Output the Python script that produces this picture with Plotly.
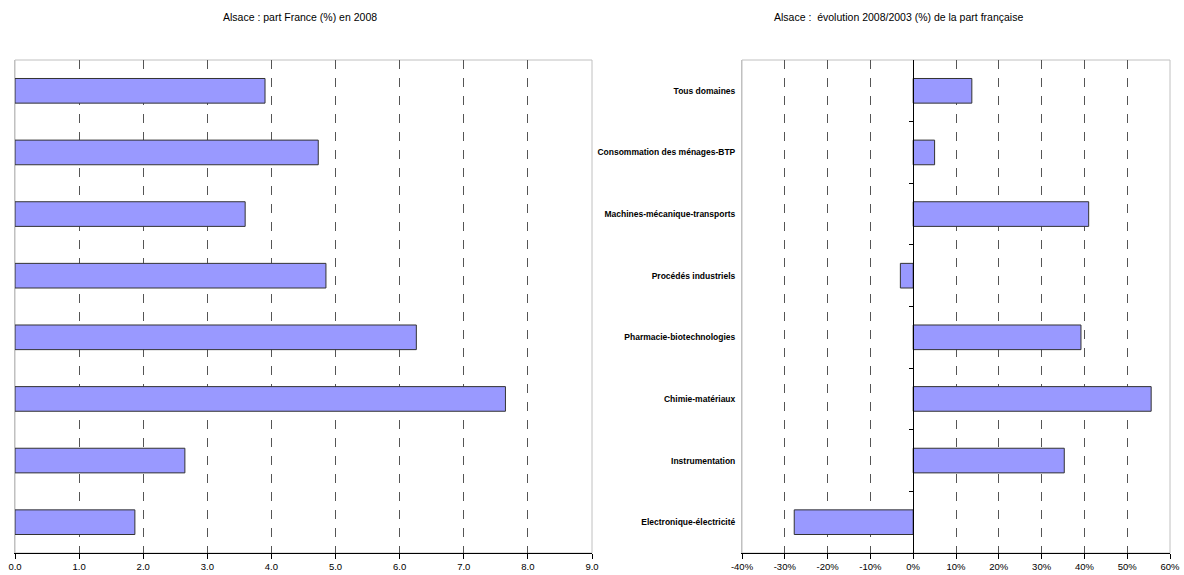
import plotly.graph_objects as go

# Domain names (top to bottom)
domaines = [
    "Tous domaines",
    "Consommation des ménages-BTP",
    "Machines-mécanique-transports",
    "Procédés industriels",
    "Pharmacie-biotechnologies",
    "Chimie-matériaux",
    "Instrumentation",
    "Electronique-électricité",
]
# Part France (%) en 2008
part_2008 = [3.90, 4.73, 3.59, 4.85, 6.26, 7.65, 2.65, 1.87]
# Evolution 2008/2003 (%) de la part française
evolution = [13.7, 5.0, 41.0, -3.0, 39.2, 55.6, 35.3, -27.8]

left_ticks = [0, 1, 2, 3, 4, 5, 6, 7, 8, 9]
left_ticklabels = ["0.0", "1.0", "2.0", "3.0", "4.0", "5.0", "6.0", "7.0", "8.0", "9.0"]
right_ticks = [-40, -30, -20, -10, 0, 10, 20, 30, 40, 50, 60]
right_ticklabels = ["-40%", "-30%", "-20%", "-10%", "0%", "10%", "20%", "30%", "40%", "50%", "60%"]

FONT = "Liberation Sans Narrow, Arial Narrow, Liberation Sans, Arial, sans-serif"
BAR_FILL = "#9999ff"
BAR_LINE = "#333333"
GRID = "#555555"
FRAME = "#c0c0c0"

W, H = 1184, 575
y_dom = [1 - 553 / H, 1 - 60 / H]
left_dom = [15 / W, 592 / W]
right_dom = [742 / W, 1170 / W]
right_range = [-40, 60]
zero_pos = right_dom[0] + (0 - right_range[0]) / (right_range[1] - right_range[0]) * (right_dom[1] - right_dom[0])

fig = go.Figure()

fig.add_trace(go.Bar(
    x=part_2008, y=domaines, orientation="h", width=0.4,
    marker=dict(color=BAR_FILL, line=dict(color=BAR_LINE, width=1)),
    xaxis="x", yaxis="y", showlegend=False,
))
fig.add_trace(go.Bar(
    x=evolution, y=domaines, orientation="h", width=0.4,
    marker=dict(color=BAR_FILL, line=dict(color=BAR_LINE, width=1)),
    xaxis="x2", yaxis="y2", showlegend=False,
))
# empty trace so the overlay axis at 0 % is drawn
fig.add_trace(go.Scatter(x=[None], y=[None], xaxis="x2", yaxis="y3",
                         showlegend=False, hoverinfo="skip"))

common_x = dict(
    showgrid=True, gridcolor=GRID, griddash="dash", gridwidth=1,
    showline=True, linecolor="#000000", linewidth=1,
    ticks="outside", ticklen=5, tickcolor="#000000",
    tickfont=dict(family=FONT, size=9.5, color="#000000"),
    zeroline=False, mirror=False, automargin=False,
    ticklabeloverflow="allow",
)

fig.update_layout(
    width=W, height=H,
    margin=dict(l=0, r=0, t=0, b=0, autoexpand=False),
    paper_bgcolor="white", plot_bgcolor="white",
    font=dict(family=FONT, color="#000000"),
    xaxis=dict(domain=left_dom, anchor="y", range=[0, 9],
               tickvals=left_ticks, ticktext=left_ticklabels, **common_x),
    yaxis=dict(domain=y_dom, anchor="x", type="category",
               categoryorder="array", categoryarray=domaines,
               autorange="reversed", showticklabels=False,
               showline=True, linecolor=FRAME, linewidth=1,
               showgrid=False, ticks="", automargin=False),
    xaxis2=dict(domain=right_dom, anchor="y2", range=right_range,
                tickvals=right_ticks, ticktext=right_ticklabels, **common_x),
    yaxis2=dict(domain=y_dom, anchor="x2", type="category",
                categoryorder="array", categoryarray=domaines,
                autorange="reversed", automargin=False,
                showline=True, linecolor=FRAME, linewidth=1,
                showgrid=False, ticks="", ticklabelstandoff=4,
                tickfont=dict(family=FONT, size=8.5, color="#000000", weight="bold")),
    # category axis crossing at 0 % on the right chart
    yaxis3=dict(overlaying="y2", anchor="free", position=zero_pos,
                range=[len(domaines) - 0.5, -0.5],
                tickvals=[i + 0.5 for i in range(len(domaines) - 1)],
                showticklabels=False, ticks="outside", ticklen=4,
                tickcolor="#000000", showline=True, linecolor="#000000",
                linewidth=1, showgrid=False, zeroline=False, automargin=False),
    annotations=[
        dict(text="Alsace : part France (%) en 2008", xref="paper", yref="paper",
             x=300 / W, y=1 - 17 / H, xanchor="center", yanchor="middle",
             showarrow=False, font=dict(family=FONT, size=10.5, color="#000000")),
        dict(text="Alsace :  évolution 2008/2003 (%) de la part française",
             xref="paper", yref="paper",
             x=898 / W, y=1 - 17 / H, xanchor="center", yanchor="middle",
             showarrow=False, font=dict(family=FONT, size=10.5, color="#000000")),
    ],
    shapes=[
        dict(type="rect", xref="x domain", yref="y domain", x0=0, x1=1, y0=0, y1=1,
             line=dict(color=FRAME, width=1), layer="below"),
        dict(type="rect", xref="x2 domain", yref="y2 domain", x0=0, x1=1, y0=0, y1=1,
             line=dict(color=FRAME, width=1), layer="below"),
    ],
)

fig.write_html("out.html")
